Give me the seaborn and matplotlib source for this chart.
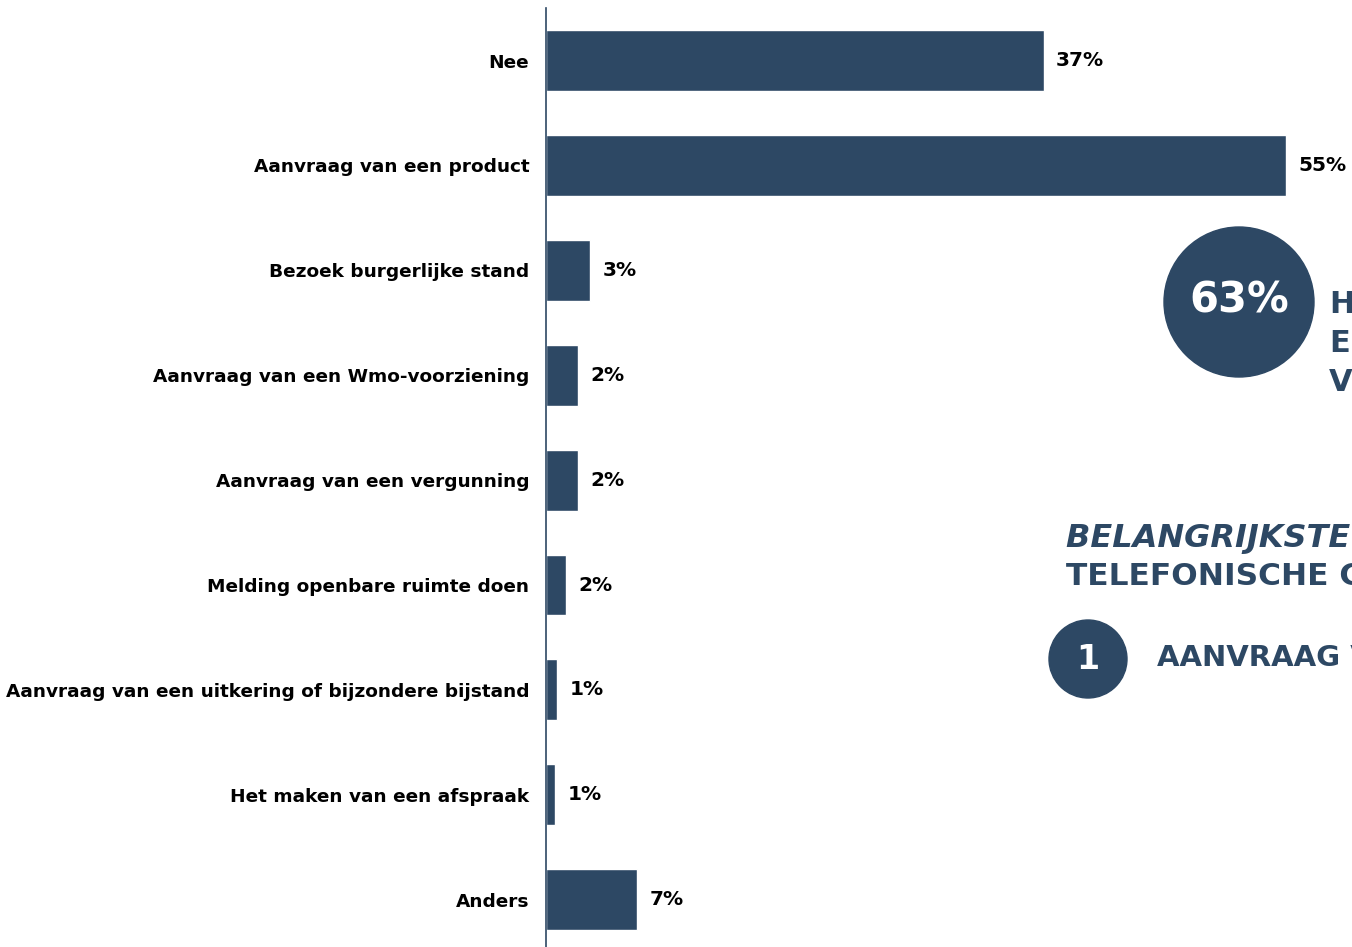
import matplotlib
matplotlib.use("Agg")
import matplotlib.pyplot as plt
from matplotlib.patches import Circle
import seaborn as sns
import pandas as pd

# Reasons for contacting the municipality by phone (share of respondents, %)
categories = [
    "Nee",
    "Aanvraag van een product",
    "Bezoek burgerlijke stand",
    "Aanvraag van een Wmo-voorziening",
    "Aanvraag van een vergunning",
    "Melding openbare ruimte doen",
    "Aanvraag van een uitkering of bijzondere bijstand",
    "Het maken van een afspraak",
    "Anders",
]
shares = [37.0, 55.0, 3.3, 2.4, 2.4, 1.5, 0.8, 0.7, 6.8]
share_with_question = 63
top_rank = 1
top_reason = "AANVRAAG VAN EEN PRODUCT"

NAVY = "#2D4864"

sns.set_theme(style="white")
plt.rcParams["font.family"] = ["DejaVu Sans"]

df = pd.DataFrame({"reden": categories, "aandeel": shares})

fig = plt.figure(figsize=(13.52, 9.47), dpi=100)
W, H = 1352, 947
x0 = 546
px_per_pct = 13.45
row = 104.9
top_row = 60.5
ax = fig.add_axes([x0 / W, 1 - (top_row + (len(categories) - 0.5) * row) / H,
                   (W - x0) / W, (len(categories) * row) / H])

sns.barplot(data=df, x="aandeel", y="reden", orient="h", color=NAVY,
            width=0.58, saturation=1, ax=ax)
ax.set_xlim(0, (W - x0) / px_per_pct)
ax.set_ylim(len(categories) - 0.5, -0.5)
ax.set_xlabel("")
ax.set_ylabel("")
ax.set_xticks([])
for side in ("top", "right", "bottom"):
    ax.spines[side].set_visible(False)
ax.spines["left"].set_color(NAVY)
ax.spines["left"].set_linewidth(1.2)
ax.tick_params(axis="y", length=0, pad=12)
for lbl in ax.get_yticklabels():
    lbl.set_fontweight("bold")
    lbl.set_fontsize(13.3)
    lbl.set_color("black")

ax.bar_label(ax.containers[0], labels=[f"{v:.0f}%" for v in shares],
             padding=9, fontsize=14.5, fontweight="bold", color="black")

# Overlay in pixel coordinates for the summary badges
ov = fig.add_axes([0, 0, 1, 1], zorder=5)
ov.set_xlim(0, W)
ov.set_ylim(H, 0)
ov.axis("off")
ov.patch.set_alpha(0)

ov.add_patch(Circle((1239, 302), 75, color=NAVY))
ov.text(1239, 300, f"{share_with_question}%", color="white", fontsize=30,
        fontweight="bold", ha="center", va="center")
for i, word in enumerate(["HAD", "EEN", "VRAAG"]):
    ov.text(1329, 304 + i * 39, word, color=NAVY, fontsize=22,
            fontweight="bold", ha="left", va="center")

ov.text(1066, 538, "BELANGRIJKSTE REDEN VOOR", color=NAVY, fontsize=23,
        fontweight="bold", fontstyle="italic", ha="left", va="center")
ov.text(1066, 576, "TELEFONISCHE CONTACT", color=NAVY, fontsize=22.5,
        fontweight="bold", ha="left", va="center")

ov.add_patch(Circle((1088, 659), 39, color=NAVY))
ov.text(1088, 659, str(top_rank), color="white", fontsize=24,
        fontweight="bold", ha="center", va="center")
ov.text(1157, 658, top_reason, color=NAVY, fontsize=21,
        fontweight="bold", ha="left", va="center")

fig.savefig("out.png", dpi=100)
